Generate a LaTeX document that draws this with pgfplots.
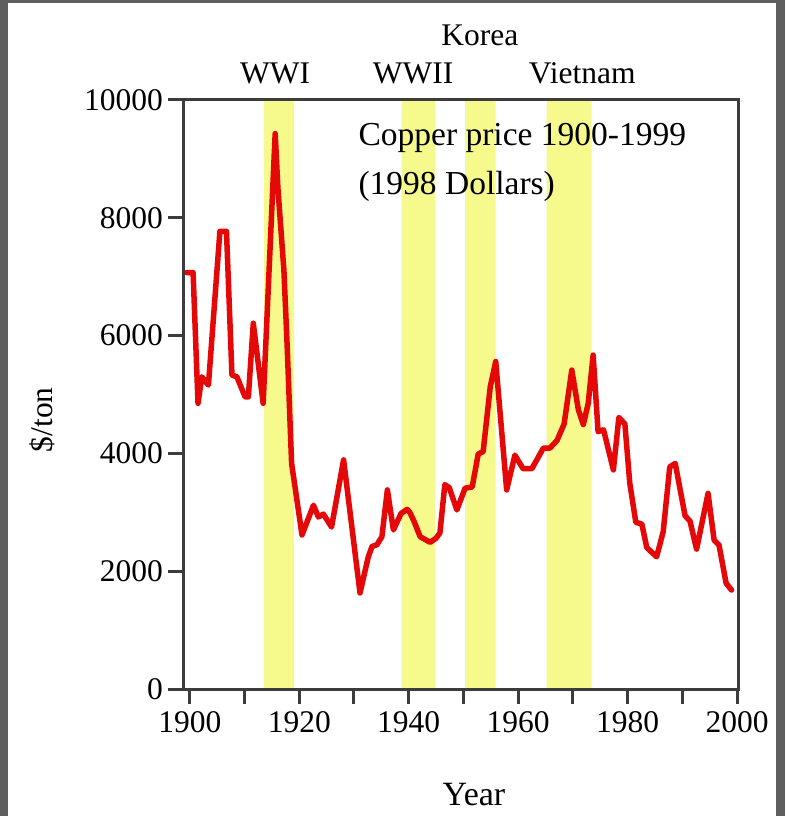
\documentclass[border=0pt]{standalone}
\usepackage{fontspec}
\setmainfont{Liberation Serif}
\usepackage{pgfplots}
\pgfplotsset{compat=1.18}
\definecolor{warshade}{RGB}{246,249,140}
\definecolor{curvered}{RGB}{228,8,8}
\definecolor{axisgray}{RGB}{60,60,60}
\definecolor{bordergray}{RGB}{95,95,95}
\begin{document}
\begin{tikzpicture}
\useasboundingbox (-183.3pt,-127pt) rectangle (601.7pt,689pt);
\fill[bordergray] (-183.3pt,-127pt) rectangle (-175.3pt,689pt);
\fill[bordergray] (592.7pt,-127pt) rectangle (601.7pt,689pt);
\fill[bordergray] (-183.3pt,686pt) rectangle (601.7pt,689pt);
\begin{axis}[
  at={(0,0)}, anchor=south west,
  scale only axis, width=554.7pt, height=589pt,
  xmin=1898.81, xmax=2000.17, ymin=0, ymax=10000,
  clip=false,
  axis line style={axisgray, line width=3pt},
  every tick/.style={axisgray, line width=3pt},
  major tick length=15pt, minor tick length=15pt,
  tick align=outside,
  xtick pos=bottom, ytick pos=left,
  xtick={1900,1910,...,2000},
  xticklabels={1900,,1920,,1940,,1960,,1980,,2000},
  ytick={0,2000,4000,6000,8000,10000},
  scaled y ticks=false,
  /pgf/number format/assume math mode=true,
  /pgf/number format/1000 sep={},
  ticklabel style={font=\fontsize{31.5}{31.5}\selectfont, text=black},
  yticklabel style={xshift=-2pt},
  xticklabel style={yshift=-4pt},
  axis on top,
]
\addplot[fill=warshade, draw=none] coordinates {(1913.6,0) (1919.04,0) (1919.04,10000) (1913.6,10000)} \closedcycle;
\addplot[fill=warshade, draw=none] coordinates {(1938.7,0) (1944.8,0) (1944.8,10000) (1938.7,10000)} \closedcycle;
\addplot[fill=warshade, draw=none] coordinates {(1950.3,0) (1955.9,0) (1955.9,10000) (1950.3,10000)} \closedcycle;
\addplot[fill=warshade, draw=none] coordinates {(1965.2,0) (1973.4,0) (1973.4,10000) (1965.2,10000)} \closedcycle;
\addplot[curvered, line width=5.5pt, line join=round, line cap=round, mark=none] coordinates {
(1899.4,7070) (1900.6,7070) (1901.5,4850) (1902.2,5300) (1902.6,5250) (1903.4,5160)
(1905.5,7770) (1906.7,7770) (1907.7,5330) (1908.6,5300) (1910.1,4960) (1910.7,4960)
(1911.6,6210) (1913.4,4850) (1915.6,9430) (1916.1,8500) (1917.2,7100) (1917.8,5800)
(1918.6,3830) (1920.5,2615) (1922.6,3120) (1923.5,2920) (1924.4,2970) (1925.9,2750)
(1928.1,3890) (1931.1,1630) (1932.6,2240) (1933.3,2420) (1934.2,2450) (1935.1,2585)
(1936.1,3380) (1937.2,2700) (1938.6,2980) (1939.7,3050) (1940.2,3000) (1941.0,2840)
(1942.1,2585) (1943.9,2490) (1945.0,2560) (1945.7,2650) (1946.6,3470) (1947.4,3420)
(1948.8,3040) (1950.3,3410) (1951.6,3430) (1952.7,3990) (1953.6,4030) (1954.9,5130)
(1955.9,5560) (1957.9,3380) (1959.4,3970) (1960.9,3740) (1962.5,3740) (1964.6,4090)
(1965.8,4090) (1967.1,4220) (1968.4,4500) (1969.8,5415) (1971.0,4740) (1971.9,4490)
(1972.8,4850) (1973.7,5670) (1974.6,4370) (1975.6,4400) (1977.4,3720) (1978.4,4610)
(1979.5,4500) (1980.4,3490) (1981.5,2830) (1982.6,2800) (1983.5,2400) (1985.3,2245)
(1986.5,2670) (1987.7,3770) (1988.7,3830) (1990.5,2940) (1991.4,2850) (1992.6,2375)
(1994.7,3320) (1995.8,2530) (1996.7,2445) (1998.0,1795) (1999.0,1680)
};
\node[anchor=base, font=\fontsize{31.5}{31.5}\selectfont, text=black] at (axis cs:1915.57,10272) {WWI};
\node[anchor=base, font=\fontsize{31.5}{31.5}\selectfont, text=black] at (axis cs:1940.8,10272) {WWII};
\node[anchor=base, font=\fontsize{31.5}{31.5}\selectfont, text=black] at (axis cs:1953.0,10917) {Korea};
\node[anchor=base, font=\fontsize{31.5}{31.5}\selectfont, text=black] at (axis cs:1971.7,10272) {Vietnam};
\node[anchor=base west, inner sep=0pt, font=\fontsize{33.5}{33.5}\selectfont, text=black] at (axis cs:1930.8,9219) {Copper price 1900-1999};
\node[anchor=base west, inner sep=0pt, font=\fontsize{33.5}{33.5}\selectfont, text=black] at (axis cs:1930.8,8387) {(1998 Dollars)};
\node[anchor=base, inner sep=0pt, font=\fontsize{34}{34}\selectfont, text=black] at (axis description cs:0.524,-0.197) {Year};
\node[rotate=90, font=\fontsize{31.5}{31.5}\selectfont, text=black] at (axis description cs:-0.255,0.457) {\$/ton};
\end{axis}
\end{tikzpicture}
\end{document}
